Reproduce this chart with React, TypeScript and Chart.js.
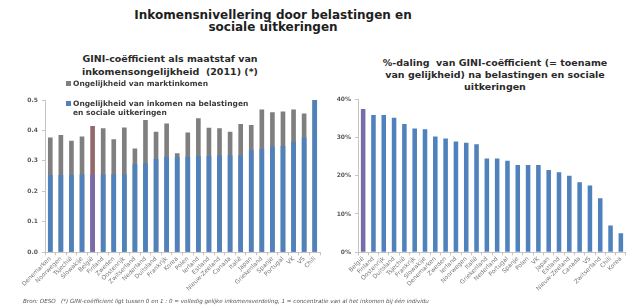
import React, { useEffect, useRef } from "react";
import { Chart, registerables } from "chart.js";

Chart.register(...registerables);

// ---------- DATA ----------
const giniCountries = [
  "Denemarken", "Noorwegen", "Tsjechië", "Slowakije", "België", "Finland", "Zweden",
  "Oostenrijk", "Zwitserland", "Nederland", "Duitsland", "Frankrijk", "Korea", "Polen",
  "Ierland", "Estland", "Nieuw-Zeeland", "Canada", "Italië", "Japan", "Griekenland",
  "Spanje", "Portugal", "VK", "VS", "Chili",
];
const giniMarket = [
  0.377, 0.385, 0.366, 0.38, 0.415, 0.407, 0.371, 0.41, 0.341, 0.434, 0.396, 0.423, 0.325,
  0.393, 0.44, 0.409, 0.407, 0.396, 0.421, 0.418, 0.469, 0.46, 0.462, 0.469, 0.456, 0.503,
];
const giniAfter = [
  0.254, 0.254, 0.254, 0.256, 0.256, 0.256, 0.256, 0.256, 0.289, 0.292, 0.306, 0.314, 0.312,
  0.314, 0.316, 0.317, 0.319, 0.319, 0.319, 0.336, 0.339, 0.347, 0.349, 0.363, 0.377, 0.5,
];
const dropCountries = [
  "België", "Finland", "Oostenrijk", "Duitsland", "Tsjechië", "Frankrijk", "Slowakije",
  "Denemarken", "Zweden", "Ierland", "Noorwegen", "Italië", "Griekenland", "Nederland",
  "Portugal", "Spanje", "Polen", "VK", "Japan", "Estland", "Nieuw-Zeeland", "Canada", "VS",
  "Zwitserland", "Chili", "Korea",
];
const dropValues = [
  37.4, 35.8, 35.8, 35.1, 33.5, 32.3, 32.1, 30.2, 29.7, 28.9, 28.6, 28.2, 24.5, 24.5, 23.9,
  22.8, 22.8, 22.8, 21.5, 20.9, 20.0, 18.3, 17.4, 14.1, 7.0, 5.0,
];
const highlightCountry = "België";

const legendMarket = "Ongelijkheid van marktinkomen";
const legendAfter = "Ongelijkheid van inkomen na belastingen en sociale uitkeringen";

// ---------- STYLE ----------
const FONT = "'DejaVu Sans', Verdana, sans-serif";
const BLUE = "#4f81bd";
const GREY = "#7f7f7f";
const HL_BLUE = "#7a6cab";
const HL_GREY = "#94696a";
const AXIS = "#c4c4c4";

function axisX(height: number) {
  return {
    grid: { drawOnChartArea: false, tickLength: 3, color: AXIS },
    border: { color: AXIS },
    ticks: {
      font: { size: 6, family: FONT },
      color: "#777777",
      minRotation: 45,
      maxRotation: 45,
      autoSkip: false,
      padding: 0,
    },
    afterFit: (s: any) => {
      s.height = height;
    },
  };
}

export default function App() {
  const leftRef = useRef<HTMLCanvasElement>(null);
  const rightRef = useRef<HTMLCanvasElement>(null);

  useEffect(() => {
    const left = new Chart(leftRef.current!, {
      type: "bar",
      data: {
        labels: giniCountries,
        datasets: [
          {
            label: legendAfter,
            data: giniAfter,
            backgroundColor: giniCountries.map((c) => (c === highlightCountry ? HL_BLUE : BLUE)),
            order: 0,
            grouped: false,
            barPercentage: 0.44,
            categoryPercentage: 1,
          } as any,
          {
            label: legendMarket,
            data: giniMarket,
            backgroundColor: giniCountries.map((c) => (c === highlightCountry ? HL_GREY : GREY)),
            order: 1,
            grouped: false,
            barPercentage: 0.44,
            categoryPercentage: 1,
          } as any,
        ],
      },
      options: {
        animation: false,
        responsive: false,
        maintainAspectRatio: false,
        layout: { padding: { top: 10, right: 2, left: 0, bottom: 0 } },
        plugins: { legend: { display: false }, tooltip: { enabled: false } },
        scales: {
          x: axisX(47.7) as any,
          y: {
            min: 0,
            max: 0.5,
            ticks: {
              stepSize: 0.1,
              callback: (v: any) => Number(v).toFixed(1),
              font: { size: 6, weight: "bold", family: FONT },
              color: "#5a5a5a",
              padding: 4,
            },
            grid: { drawOnChartArea: false, tickLength: 3, color: AXIS },
            border: { color: AXIS },
            afterFit: (s: any) => {
              s.width = 45;
            },
          } as any,
        },
      },
    });

    const right = new Chart(rightRef.current!, {
      type: "bar",
      data: {
        labels: dropCountries,
        datasets: [
          {
            label: "%-daling",
            data: dropValues,
            backgroundColor: dropCountries.map((c) => (c === highlightCountry ? HL_BLUE : BLUE)),
            barPercentage: 0.44,
            categoryPercentage: 1,
          },
        ],
      },
      options: {
        animation: false,
        responsive: false,
        maintainAspectRatio: false,
        layout: { padding: { top: 9, right: 0, left: 0, bottom: 0 } },
        plugins: { legend: { display: false }, tooltip: { enabled: false } },
        scales: {
          x: axisX(47.7) as any,
          y: {
            min: 0,
            max: 40,
            ticks: {
              stepSize: 10,
              callback: (v: any) => `${v}%`,
              font: { size: 6, weight: "bold", family: FONT },
              color: "#5a5a5a",
              padding: 4,
            },
            grid: { drawOnChartArea: false, tickLength: 3, color: AXIS },
            border: { color: AXIS },
            afterFit: (s: any) => {
              s.width = 36;
            },
          } as any,
        },
      },
    });

    return () => {
      left.destroy();
      right.destroy();
    };
  }, []);

  const abs = (o: React.CSSProperties): React.CSSProperties => ({ position: "absolute", ...o });

  return (
    <div
      style={{
        position: "absolute",
        left: 0,
        top: 0,
        width: 626,
        height: 307,
        overflow: "hidden",
        background: "#ffffff",
        fontFamily: FONT,
        color: "#1e1e1e",
      }}
    >
      <div
        style={abs({
          left: 0,
          top: 8.5,
          width: 546,
          textAlign: "center",
          fontWeight: "bold",
          fontSize: 12,
          lineHeight: "12.5px",
        })}
      >
        Inkomensnivellering door belastingen en
        <br />
        sociale uitkeringen
      </div>

      <div
        style={abs({
          left: 20,
          top: 52,
          width: 300,
          textAlign: "center",
          fontWeight: "bold",
          fontSize: 9.5,
          lineHeight: "13px",
          color: "#2a2a2a",
        })}
      >
        GINI-coëfficient als maatstaf van
        <br />
        inkomensongelijkheid&nbsp; (2011) (*)
      </div>

      <div
        style={abs({
          left: 345,
          top: 56.5,
          width: 300,
          textAlign: "center",
          fontWeight: "bold",
          fontSize: 9.5,
          lineHeight: "12px",
          color: "#2a2a2a",
        })}
      >
        %-daling&nbsp; van GINI-coëfficient (= toename
        <br />
        van gelijkheid) na belastingen en sociale
        <br />
        uitkeringen
      </div>

      <canvas
        ref={leftRef}
        width={322}
        height={210}
        style={abs({ left: 0, top: 90, width: 322, height: 210 })}
      />
      <canvas
        ref={rightRef}
        width={304}
        height={210}
        style={abs({ left: 322, top: 90, width: 304, height: 210 })}
      />

      {/* legend */}
      <div style={abs({ left: 66, top: 80.5, width: 5, height: 5, background: GREY })} />
      <div
        style={abs({
          left: 73,
          top: 78.5,
          fontSize: 7.5,
          fontWeight: "bold",
          lineHeight: "9px",
          color: "#3a3a3a",
          whiteSpace: "nowrap",
        })}
      >
        {legendMarket}
      </div>
      <div style={abs({ left: 66, top: 100.5, width: 5, height: 5, background: BLUE })} />
      <div
        style={abs({
          left: 73,
          top: 98.5,
          width: 200,
          fontSize: 7.5,
          fontWeight: "bold",
          lineHeight: "9px",
          color: "#3a3a3a",
        })}
      >
        Ongelijkheid van inkomen na belastingen
        <br />
        en sociale uitkeringen
      </div>

      <div
        style={abs({
          left: 23,
          top: 296.5,
          fontSize: 5.6,
          fontStyle: "italic",
          lineHeight: "8px",
          color: "#555",
          whiteSpace: "nowrap",
        })}
      >
        Bron: OESO &nbsp; (*) GINI-coëfficient ligt tussen 0 en 1 : 0 = volledig gelijke
        inkomensverdeling, 1 = concentratie van al het inkomen bij één individu
      </div>
    </div>
  );
}
